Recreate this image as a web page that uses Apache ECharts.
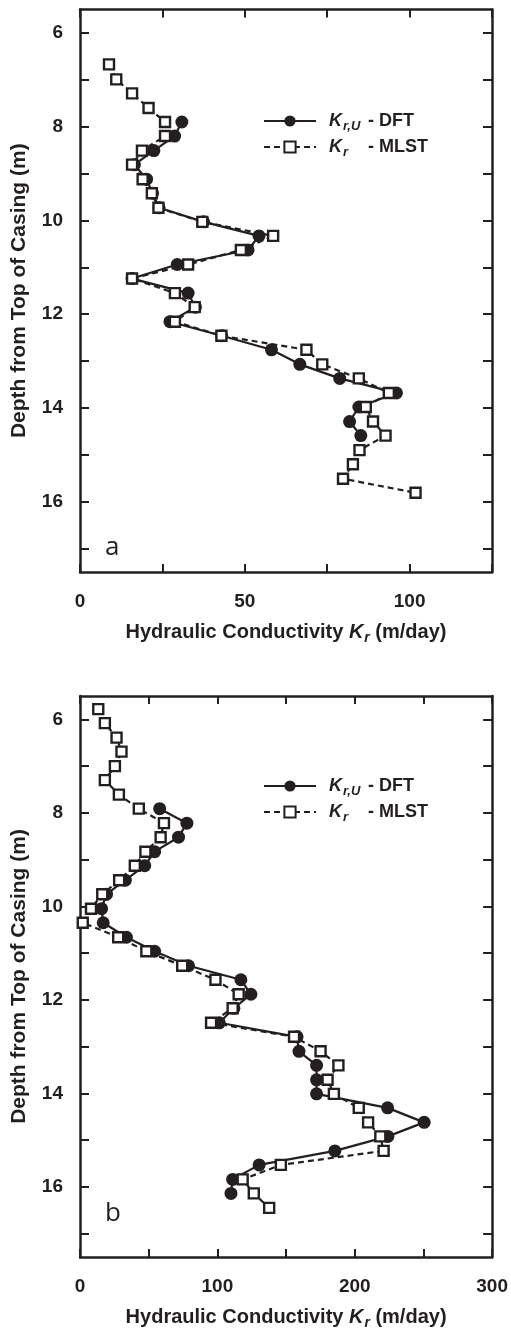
<!DOCTYPE html>
<html>
<head>
<meta charset="utf-8">
<script src="https://cdn.jsdelivr.net/npm/echarts@6/dist/echarts.min.js"></script>
<style>
  html, body { margin: 0; padding: 0; background: #fff; }
  #chart { width: 511px; height: 1331px; }
</style>
</head>
<body>
<div id="chart"></div>
<script>
// panel a : depth (m) and conductivity (m/day)
const depthDftA = [7.9, 8.2, 8.51, 8.81, 9.12, 9.42, 9.73, 10.03, 10.33, 10.63, 10.94, 11.24, 11.55, 11.85,
  12.16, 12.46, 12.76, 13.07, 13.37, 13.68, 13.98, 14.29, 14.59];
const kDftA = [30.9, 28.7, 22.4, 16.5, 20.2, 22, 24, 37.5, 54.3, 51, 29.5, 15.8, 32.8, 35,
  27.3, 43, 58.1, 66.7, 78.8, 96, 84.6, 81.8, 85.2];
const depthMlstA = [6.67, 6.99, 7.29, 7.6, 7.9, 8.2, 8.51, 8.81, 9.12, 9.42, 9.73, 10.03, 10.33, 10.63, 10.94,
  11.24, 11.55, 11.85, 12.16, 12.46, 12.76, 13.07, 13.37, 13.68, 13.98, 14.29, 14.59, 14.9, 15.2, 15.51, 15.81];
const kMlstA = [8.8, 11.0, 15.8, 20.8, 25.8, 25.8, 18.8, 15.8, 19.0, 21.8, 23.8, 37.1, 58.6, 48.8, 32.8,
  15.8, 28.8, 34.8, 28.8, 42.9, 68.7, 73.5, 84.6, 93.7, 86.7, 88.9, 92.7, 84.8, 82.8, 79.8, 101.8];

// panel b
const depthDftB = [7.91, 8.22, 8.52, 8.83, 9.13, 9.44, 9.74, 10.05, 10.35, 10.66, 10.96, 11.27, 11.57, 11.88,
  12.18, 12.49, 12.79, 13.1, 13.4, 13.71, 14.01, 14.31, 14.62, 14.92, 15.23, 15.53, 15.84, 16.14];
const kDftB = [58, 77.8, 71.7, 54.3, 47.1, 33, 19.3, 15.7, 16.9, 33.8, 54.3, 79, 117.1, 124.4,
  112, 101.4, 158, 159.4, 172.2, 172.2, 172.2, 223.9, 250.5, 224.1, 185.5, 130.4, 111.1, 109.9];
const depthMlstB = [5.78, 6.08, 6.39, 6.69, 7.0, 7.3, 7.61, 7.91, 8.22, 8.52, 8.83, 9.13, 9.44, 9.74, 10.05,
  10.35, 10.66, 10.96, 11.27, 11.57, 11.88, 12.18, 12.49, 12.79, 13.1, 13.4, 13.71, 14.01, 14.31, 14.62,
  14.92, 15.23, 15.53, 15.84, 16.14, 16.45];
const kMlstB = [13.3, 18.1, 26.6, 30.2, 25.4, 18.1, 28.3, 42.8, 61.1, 58.7, 47.6, 39.9, 28.5, 16.2, 8,
  2, 27.8, 48.3, 74.4, 98.6, 115.5, 111.1, 95.4, 155.8, 175.1, 188.1, 180.2, 184.8, 202.9, 209.7,
  218.6, 221, 146.2, 118.4, 126.5, 137.7];

const depthTicks = [6, 7, 8, 9, 10, 11, 12, 13, 14, 15, 16, 17];
const depthLabels = [6, 8, 10, 12, 14, 16];
const xTicksA = [0, 25, 50, 75, 100, 125];
const xLabelsA = [0, 50, 100];
const xTicksB = [0, 50, 100, 150, 200, 250, 300];
const xLabelsB = [0, 100, 200, 300];

const ink = '#231f20';
const boldFont = 'Liberation Sans';

function pairs(k, d) {
  return k.map((v, i) => [v, d[i]]);
}

function subRich(size) {
  return {
    i: { fontSize: size, fontWeight: 'bold', fontStyle: 'italic', color: ink, fontFamily: boldFont },
    sub: { fontSize: Math.round(size * 0.7), fontWeight: 'bold', fontStyle: 'italic', color: ink, fontFamily: boldFont,
      verticalAlign: 'bottom', padding: [Math.round(size * 0.55), 0, 0, 1] }
  };
}

function xAxes(g, max, ticks, labels) {
  return [{
    gridIndex: g, type: 'value', min: 0, max: max, interval: ticks[1], position: 'bottom',
    axisLine: { onZero: false, lineStyle: { color: ink, width: 2.5 } },
    axisTick: { inside: true, length: 8, customValues: ticks, lineStyle: { color: ink, width: 2 } },
    axisLabel: { customValues: labels, margin: 20, fontSize: 19, fontWeight: 'bold', color: ink, fontFamily: boldFont },
    splitLine: { show: false },
    name: 'Hydraulic Conductivity {i|K}{sub|r} (m/day)', nameLocation: 'middle', nameGap: 48,
    nameTextStyle: { fontSize: 20, fontWeight: 'bold', color: ink, fontFamily: boldFont, rich: subRich(20) }
  }, {
    gridIndex: g, type: 'value', min: 0, max: max, interval: ticks[1], position: 'top',
    axisLine: { onZero: false, lineStyle: { color: ink, width: 2.5 } },
    axisTick: { inside: true, length: 8, customValues: ticks, lineStyle: { color: ink, width: 2 } },
    axisLabel: { show: false },
    splitLine: { show: false }
  }];
}

function yAxes(g) {
  return [{
    gridIndex: g, type: 'value', inverse: true, min: 5.5, max: 17.5, interval: 0.5, position: 'left',
    axisLine: { onZero: false, lineStyle: { color: ink, width: 2.5 } },
    axisTick: { inside: true, length: 9, customValues: depthTicks, lineStyle: { color: ink, width: 2 } },
    axisLabel: { customValues: depthLabels, margin: 17, fontSize: 19, fontWeight: 'bold', color: ink, fontFamily: boldFont },
    splitLine: { show: false },
    name: 'Depth from Top of Casing (m)', nameLocation: 'middle', nameGap: 50,
    nameTextStyle: { fontSize: 21, fontWeight: 'bold', color: ink, fontFamily: boldFont }
  }, {
    gridIndex: g, type: 'value', inverse: true, min: 5.5, max: 17.5, interval: 0.5, position: 'right',
    axisLine: { onZero: false, lineStyle: { color: ink, width: 2.5 } },
    axisTick: { inside: true, length: 9, customValues: depthTicks, lineStyle: { color: ink, width: 2 } },
    axisLabel: { show: false },
    splitLine: { show: false }
  }];
}

function dftSeries(xi, yi, data) {
  return {
    name: 'DFT', type: 'line', xAxisIndex: xi, yAxisIndex: yi, data: data,
    symbol: 'circle', symbolSize: 13, z: 2,
    lineStyle: { color: ink, width: 2.2 },
    itemStyle: { color: ink, borderColor: ink, borderWidth: 0 },
    emphasis: { disabled: true }
  };
}

function mlstSeries(xi, yi, data) {
  return {
    name: 'MLST', type: 'line', xAxisIndex: xi, yAxisIndex: yi, data: data,
    symbol: 'rect', symbolSize: 10, z: 3,
    lineStyle: { color: ink, width: 2.2, type: [6, 4] },
    itemStyle: { color: '#fff', borderColor: ink, borderWidth: 2.4 },
    emphasis: { disabled: true }
  };
}

const legendSub = subRich(18);
const legendRich = {
  i: Object.assign({}, legendSub.i, { padding: [0, 0, 0, 8] }),
  sub: Object.assign({}, legendSub.sub, { width: 25 }),
  n: { fontSize: 18, fontWeight: 'bold', color: ink, fontFamily: boldFont }
};

function legend(top) {
  return {
    orient: 'vertical', left: 258, top: top, itemWidth: 52, itemHeight: 14, itemGap: 2,
    selectedMode: false, data: ['DFT', 'MLST'],
    formatter: function (name) {
      return name === 'DFT' ? '{i|K}{sub|r,U}{n|- DFT}' : '{i|K}{sub|r}{n|- MLST}';
    },
    textStyle: { rich: legendRich, lineHeight: 24 }
  };
}

const chart = echarts.init(document.getElementById('chart'), null, { renderer: 'canvas' });

chart.setOption({
  backgroundColor: '#fff',
  animation: false,
  title: [
    { text: 'a', left: 100, top: 530, textStyle: { fontSize: 26, fontWeight: 'normal', color: ink, fontFamily: 'Open Sans' } },
    { text: 'b', left: 100, top: 1196, textStyle: { fontSize: 26, fontWeight: 'normal', color: ink, fontFamily: 'Open Sans' } }
  ],
  legend: [legend(104), legend(769)],
  grid: [
    { left: 80, right: 19, top: 9.5, height: 562.5 },
    { left: 80, right: 18, top: 696, height: 563 }
  ],
  xAxis: xAxes(0, 125, xTicksA, xLabelsA).concat(xAxes(1, 300, xTicksB, xLabelsB)),
  yAxis: yAxes(0).concat(yAxes(1)),
  series: [
    dftSeries(0, 0, pairs(kDftA, depthDftA)),
    mlstSeries(0, 0, pairs(kMlstA, depthMlstA)),
    dftSeries(2, 2, pairs(kDftB, depthDftB)),
    mlstSeries(2, 2, pairs(kMlstB, depthMlstB))
  ]
});
</script>
</body>
</html>
